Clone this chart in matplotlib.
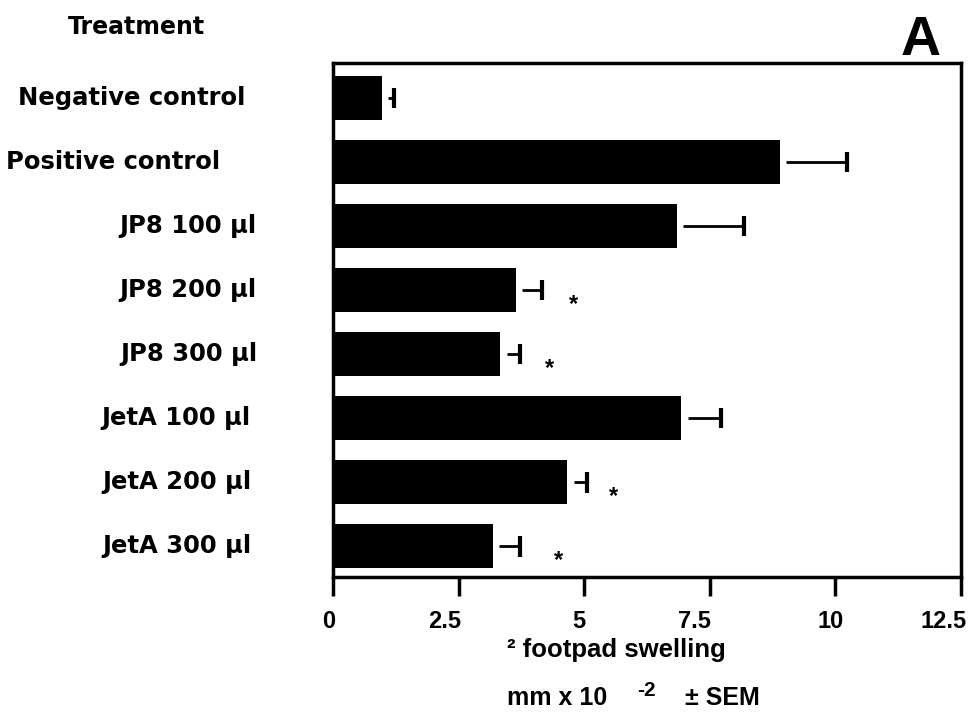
import numpy as np
import matplotlib
matplotlib.use('Agg')
import matplotlib.pyplot as plt
import matplotlib.transforms as mtransforms

plt.rcParams['font.family'] = ['Liberation Sans', 'DejaVu Sans']
plt.rcParams['font.weight'] = 'bold'

## data ##
treatments = ['Negative control', 'Positive control', 'JP8 100 µl', 'JP8 200 µl',
              'JP8 300 µl', 'JetA 100 µl', 'JetA 200 µl', 'JetA 300 µl']
swelling = [0.97, 8.89, 6.84, 3.64, 3.33, 6.93, 4.66, 3.18]
sem = [0.25, 1.35, 1.35, 0.52, 0.40, 0.79, 0.40, 0.55]
significant = [False, False, False, True, True, False, True, True]
star_x = [0, 0, 0, 4.78, 4.31, 0, 5.58, 4.49]
xticks = [0, 2.5, 5, 7.5, 10, 12.5]
xticklabels = ['0', '2.5', '5', '7.5', '10', '12.5']

# layout tweaks (px): label right edges, tick label nudges
label_right = [245, 220, 256, 256, 257, 250, 251, 251]
tick_nudge = [-4, -14, -5, -15, -5, -17]

####

fig = plt.figure(figsize=(9.72, 7.13), dpi=100)
ax = fig.add_axes([333/972, 1-577/713, (961-333)/972, (577-63)/713])

y = np.arange(len(treatments))
ax.barh(y, swelling, height=0.69, color='black')

# error bars start a little away from the bar end
gap = 0.13
for i in range(len(y)):
    ax.hlines(y[i], swelling[i] + gap, swelling[i] + sem[i], color='black', lw=2)
    ax.vlines(swelling[i] + sem[i], y[i] - 0.16, y[i] + 0.16, color='black', lw=3)
    if significant[i]:
        ax.text(star_x[i], y[i] + 0.22, '*', ha='center', va='center', fontsize=17)

ax.set_xlim(0, 12.5)
ax.set_ylim(7.48, -0.55)
ax.set_xticks(xticks)
ax.set_xticklabels(xticklabels, fontsize=17)
ax.set_yticks([])
ax.tick_params(axis='x', length=14, width=2.5, pad=10)
for s in ax.spines.values():
    s.set_linewidth(2.5)
for lab, dx in zip(ax.get_xticklabels(), tick_nudge):
    lab.set_transform(lab.get_transform() + mtransforms.ScaledTranslation(dx/100, 0, fig.dpi_scale_trans))

for i, t in enumerate(treatments):
    yy = ax.transData.transform((0, y[i]))[1]
    fig.text(label_right[i]/972, yy/713, t, ha='right', va='center',
             fontsize=17.5, family='DejaVu Sans')

fig.text(136/972, 1-27/713, 'Treatment', ha='center', va='center', fontsize=17, family='DejaVu Sans')
fig.text(921/972, 1-41/713, 'A', ha='center', va='center', fontsize=40)

fig.text(616/972, 1-650/713, '² footpad swelling', ha='center', va='center', fontsize=18.5)
fig.text(507/972, 1-698/713, 'mm x 10', ha='left', va='center', fontsize=18)
fig.text(637/972, 1-690/713, '-2', ha='left', va='center', fontsize=15)
fig.text(685/972, 1-698/713, '± SEM', ha='left', va='center', fontsize=18)

plt.savefig('out.png', dpi=100)
